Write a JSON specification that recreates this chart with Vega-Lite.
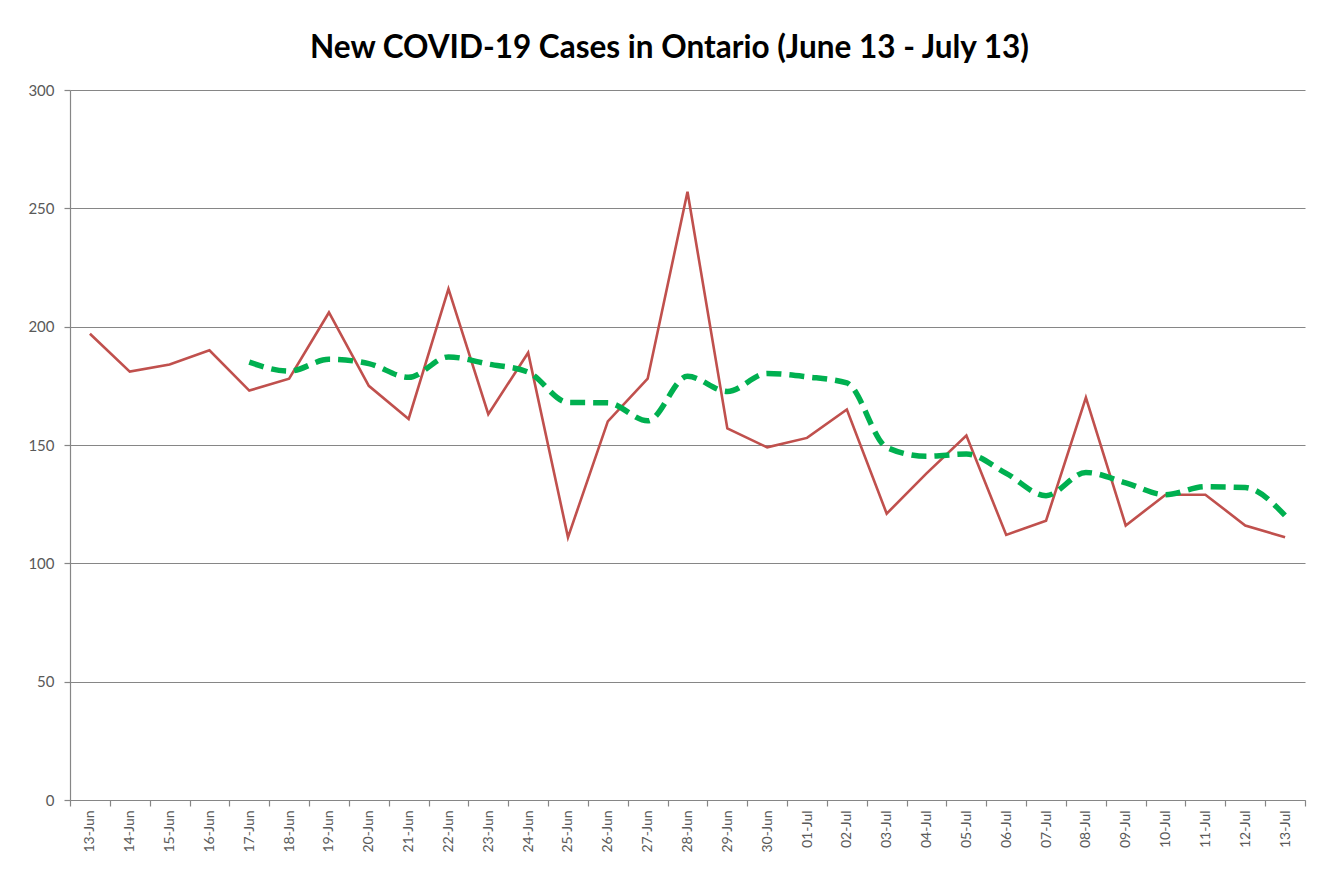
{
  "$schema": "https://vega.github.io/schema/vega-lite/v6.json",
  "width": 1235,
  "height": 710,
  "autosize": {"type": "none"},
  "padding": {"left": 70, "top": 90, "right": 15, "bottom": 79},
  "background": "white",
  "title": {
    "text": "New COVID-19 Cases in Ontario (June 13 - July 13)",
    "font": "Lato",
    "fontSize": 31.5,
    "fontWeight": "bold",
    "color": "#000000",
    "anchor": "middle",
    "offset": 19,
    "dx": -18
  },
  "config": {
    "view": {"stroke": null},
    "axis": {
      "labelFont": "Lato",
      "labelColor": "#595959",
      "domainColor": "#868686",
      "tickColor": "#868686",
      "gridColor": "#868686",
      "gridWidth": 1.2,
      "domainWidth": 1.2,
      "tickWidth": 1.2
    }
  },
  "data": {
    "values": [
      {"date": "13-Jun", "cases": 197, "avg": null},
      {"date": "14-Jun", "cases": 181, "avg": null},
      {"date": "15-Jun", "cases": 184, "avg": null},
      {"date": "16-Jun", "cases": 190, "avg": null},
      {"date": "17-Jun", "cases": 173, "avg": 185},
      {"date": "18-Jun", "cases": 178, "avg": 181.2},
      {"date": "19-Jun", "cases": 206, "avg": 186.2},
      {"date": "20-Jun", "cases": 175, "avg": 184.4},
      {"date": "21-Jun", "cases": 161, "avg": 178.6},
      {"date": "22-Jun", "cases": 216, "avg": 187.2},
      {"date": "23-Jun", "cases": 163, "avg": 184.2},
      {"date": "24-Jun", "cases": 189, "avg": 180.8},
      {"date": "25-Jun", "cases": 111, "avg": 168},
      {"date": "26-Jun", "cases": 160, "avg": 167.8},
      {"date": "27-Jun", "cases": 178, "avg": 160.2},
      {"date": "28-Jun", "cases": 257, "avg": 179},
      {"date": "29-Jun", "cases": 157, "avg": 172.6},
      {"date": "30-Jun", "cases": 149, "avg": 180.2},
      {"date": "01-Jul", "cases": 153, "avg": 178.8},
      {"date": "02-Jul", "cases": 165, "avg": 176.2},
      {"date": "03-Jul", "cases": 121, "avg": 149},
      {"date": "04-Jul", "cases": 138, "avg": 145.2},
      {"date": "05-Jul", "cases": 154, "avg": 146.2},
      {"date": "06-Jul", "cases": 112, "avg": 138},
      {"date": "07-Jul", "cases": 118, "avg": 128.6},
      {"date": "08-Jul", "cases": 170, "avg": 138.4},
      {"date": "09-Jul", "cases": 116, "avg": 134},
      {"date": "10-Jul", "cases": 129, "avg": 129},
      {"date": "11-Jul", "cases": 129, "avg": 132.4},
      {"date": "12-Jul", "cases": 116, "avg": 132},
      {"date": "13-Jul", "cases": 111, "avg": 120.2}
    ]
  },
  "encoding": {
    "x": {
      "field": "date",
      "type": "ordinal",
      "sort": null,
      "bandPosition": 0.5,
      "scale": {"type": "band", "paddingInner": 0, "paddingOuter": 0},
      "axis": {
        "title": null,
        "tickBand": "extent",
        "ticks": true,
        "tickSize": 6,
        "labelAngle": -90,
        "labelAlign": "right",
        "labelBaseline": "middle",
        "labelPadding": 4,
        "labelFontSize": 14,
        "grid": false
      }
    }
  },
  "layer": [
    {
      "mark": {"type": "line", "color": "#C0504D", "strokeWidth": 2.6},
      "encoding": {
        "y": {
          "field": "cases",
          "type": "quantitative",
          "scale": {"domain": [0, 300], "nice": false},
          "axis": {
            "title": null,
            "values": [0, 50, 100, 150, 200, 250, 300],
            "grid": true,
            "tickSize": 6,
            "labelPadding": 10,
            "labelFontSize": 15
          }
        }
      }
    },
    {
      "mark": {"type": "line", "color": "#00B050", "strokeWidth": 5.5, "strokeDash": [15, 8], "interpolate": "monotone"},
      "encoding": {
        "y": {"field": "avg", "type": "quantitative"}
      }
    }
  ]
}
